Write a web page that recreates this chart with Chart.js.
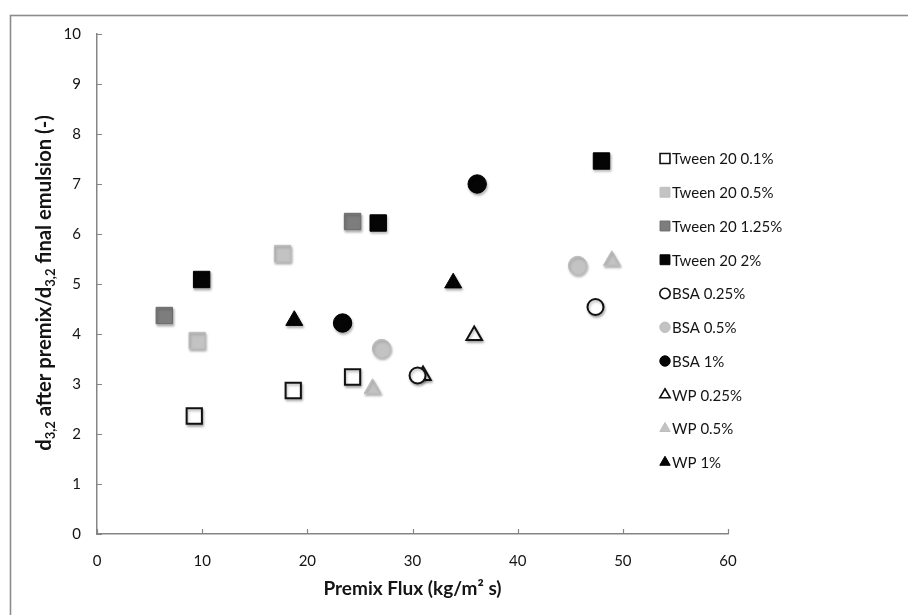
<!DOCTYPE html>
<html>
<head>
<meta charset="utf-8">
<script src="https://cdn.jsdelivr.net/npm/chart.js@4.4.0/dist/chart.umd.min.js"></script>
<style>
  html, body { margin: 0; padding: 0; background: #fff; }
  #wrap { width: 908px; height: 615px; position: relative; }
</style>
</head>
<body>
<div id="wrap"><canvas id="c"></canvas></div>
<script>
/* ===== Premix flux vs d3,2 ratio scatter ===== */
const seriesNames = ["Tween 20 0.1%", "Tween 20 0.5%", "Tween 20 1.25%", "Tween 20 2%",
  "BSA 0.25%", "BSA 0.5%", "BSA 1%", "WP 0.25%", "WP 0.5%", "WP 1%"];

const tween01X = [9.25, 18.66, 24.3],  tween01Y = [2.36, 2.87, 3.14];
const tween05X = [9.53, 17.65],        tween05Y = [3.87, 5.61];
const tween125X = [6.4, 24.3],         tween125Y = [4.37, 6.25];
const tween2X = [9.95, 26.74, 47.97],  tween2Y = [5.09, 6.22, 7.46];
const bsa025X = [30.48, 47.4],         bsa025Y = [3.17, 4.54];
const bsa05X = [27.06, 45.7],          bsa05Y = [3.71, 5.37];
const bsa1X = [23.35, 36.15],          bsa1Y = [4.22, 7.0];
const wp025X = [31.0, 35.87],          wp025Y = [3.17, 3.97];
const wp05X = [26.2, 48.95],           wp05Y = [2.91, 5.47];
const wp1X = [18.76, 33.87],           wp1Y = [4.27, 5.02];

const xTicks = [0, 10, 20, 30, 40, 50, 60];
const yTicks = [0, 1, 2, 3, 4, 5, 6, 7, 8, 9, 10];

const FONT = "Lato, 'Open Sans', sans-serif";
const INK = "#141414";
const AXIS = "#858585";

const pts = (xs, ys) => xs.map((x, i) => ({ x, y: ys[i] }));

// style per series: [xs, ys, shape, fill, border, radius, borderWidth]
const looks = [
  [tween01X, tween01Y, "rect", "#ffffff", "#111111", 10.8, 2],
  [tween05X, tween05Y, "rect", "#c3c3c3", "#bdbdbd", 11.6, 1],
  [tween125X, tween125Y, "rect", "#7d7d7d", "#6a6a6a", 11.6, 1],
  [tween2X, tween2Y, "rect", "#050505", "#000000", 11.6, 1],
  [bsa025X, bsa025Y, "circle", "#ffffff", "#111111", 8, 2],
  [bsa05X, bsa05Y, "circle", "#c3c3c3", "#bdbdbd", 9.2, 1],
  [bsa1X, bsa1Y, "circle", "#050505", "#000000", 9.2, 1],
  [wp025X, wp025Y, "triangle", "#ffffff", "#111111", 9, 2],
  [wp05X, wp05Y, "triangle", "#c3c3c3", "#bdbdbd", 9.8, 1],
  [wp1X, wp1Y, "triangle", "#050505", "#000000", 9.8, 1],
];

const datasets = looks.map((l, i) => ({
  label: seriesNames[i], data: pts(l[0], l[1]),
  pointStyle: l[2], backgroundColor: l[3], borderColor: l[4],
  pointRadius: l[5], pointBorderWidth: l[6], pointHoverRadius: l[5],
}));

const legendMarks = { rect: 7, circle: 5.2, triangle: 6 };

const framePlugin = {
  id: "frame",
  beforeDraw(chart) {
    const ctx = chart.ctx;
    ctx.save();
    ctx.fillStyle = "#fff";
    ctx.fillRect(0, 0, chart.width, chart.height);
    ctx.strokeStyle = "#8c8c8c"; ctx.lineWidth = 1.6;
    ctx.strokeRect(10.5, 15.5, chart.width + 20, chart.height + 20);
    ctx.restore();
  },
};

// Excel style tick marks pointing into the plot
const innerTicks = {
  id: "innerTicks",
  beforeDatasetsDraw(chart) {
    const { ctx, scales: { x, y }, chartArea: a } = chart;
    ctx.save();
    ctx.strokeStyle = AXIS; ctx.lineWidth = 1.2;
    ctx.beginPath();
    x.ticks.forEach((t, i) => { const px = Math.round(x.getPixelForTick(i)) + 0.5; ctx.moveTo(px, a.bottom); ctx.lineTo(px, a.bottom - 5); });
    y.ticks.forEach((t, i) => { const py = Math.round(y.getPixelForTick(i)) + 0.5; ctx.moveTo(a.left, py); ctx.lineTo(a.left + 5, py); });
    ctx.stroke();
    ctx.restore();
    // soft drop shadow under markers
    ctx.save();
    ctx.shadowColor = "rgba(0,0,0,0.28)"; ctx.shadowBlur = 2.5; ctx.shadowOffsetX = 1; ctx.shadowOffsetY = 2;
  },
  afterDatasetsDraw(chart) { chart.ctx.restore(); },
};

// rotated y title with subscripts, stretched to the reference length
const yTitle = {
  id: "yTitle",
  afterDraw(chart) {
    const ctx = chart.ctx;
    const parts = [["d", 0], ["3,2", 1], [" after premix/d", 0], ["3,2", 1], [" final emulsion (-)", 0]];
    const span = 337, cxScreen = 44, cyScreen = 283;
    const fontsAt = (sz) => [`bold ${sz}px ${FONT}`, `bold ${Math.round(sz * 0.66)}px ${FONT}`];
    const widthAt = (sz) => {
      const [m, s] = fontsAt(sz);
      let w = 0;
      for (const [t, isSub] of parts) { ctx.font = isSub ? s : m; w += ctx.measureText(t).width; }
      return w;
    };
    ctx.save();
    const size = Math.min(21, 15 * span / widthAt(15));
    const [mainF, subF] = fontsAt(size);
    const total = widthAt(size);
    ctx.setTransform(1, 0, 0, 1, 0, 0);
    ctx.translate(cxScreen, cyScreen);
    ctx.rotate(-Math.PI / 2);
    ctx.fillStyle = INK; ctx.textBaseline = "middle"; ctx.textAlign = "left";
    let pos = -total / 2;
    for (const [t, isSub] of parts) {
      ctx.font = isSub ? subF : mainF;
      ctx.fillText(t, pos, isSub ? size * 0.33 : 0);
      pos += ctx.measureText(t).width;
    }
    ctx.restore();
  },
};

const sideLegend = {
  id: "sideLegend",
  afterDraw(chart) {
    const ctx = chart.ctx;
    ctx.save();
    ctx.font = `15px ${FONT}`; ctx.textBaseline = "middle"; ctx.textAlign = "left";
    chart.data.datasets.forEach((ds, i) => {
      const y = 158.5 + i * 33.75, x = 665;
      ctx.fillStyle = ds.backgroundColor; ctx.strokeStyle = ds.borderColor;
      const bw = ds.pointBorderWidth > 1 ? 1.6 : 1;
      ctx.lineWidth = bw;
      Chart.helpers.drawPoint(ctx, { pointStyle: ds.pointStyle, radius: legendMarks[ds.pointStyle], rotation: 0, borderWidth: bw }, x, y);
      ctx.fillStyle = INK;
      ctx.fillText(ds.label, 672, y + 1);
    });
    ctx.restore();
  },
};

new Chart(document.getElementById("c"), {
  type: "scatter",
  data: { datasets },
  options: {
    responsive: true, maintainAspectRatio: false, animation: false, devicePixelRatio: 1,
    events: [],
    layout: { padding: { left: 10, top: 34, right: 180, bottom: 15 } },
    plugins: { legend: { display: false }, tooltip: { enabled: false } },
    scales: {
      x: {
        type: "linear", min: xTicks[0], max: xTicks[xTicks.length - 1],
        afterBuildTicks: (s) => { s.ticks = xTicks.map((v) => ({ value: v })); },
        afterFit: (s) => { s.height = 66; },
        grid: { display: false, drawTicks: false },
        border: { display: true, color: AXIS, width: 1.5 },
        ticks: { padding: 18, color: INK, font: { family: FONT, size: 15 } },
        title: { display: true, text: "Premix Flux (kg/m² s)", color: INK, padding: 0, font: { family: FONT, size: 19, weight: "bold" } },
      },
      y: {
        type: "linear", min: yTicks[0], max: yTicks[yTicks.length - 1],
        afterBuildTicks: (s) => { s.ticks = yTicks.map((v) => ({ value: v })); },
        afterFit: (s) => { s.width = 87; },
        grid: { display: false, drawTicks: false },
        border: { display: true, color: AXIS, width: 1.5 },
        ticks: { padding: 16, color: INK, font: { family: FONT, size: 15 } },
      },
    },
  },
  plugins: [framePlugin, innerTicks, yTitle, sideLegend],
});
</script>
</body>
</html>
